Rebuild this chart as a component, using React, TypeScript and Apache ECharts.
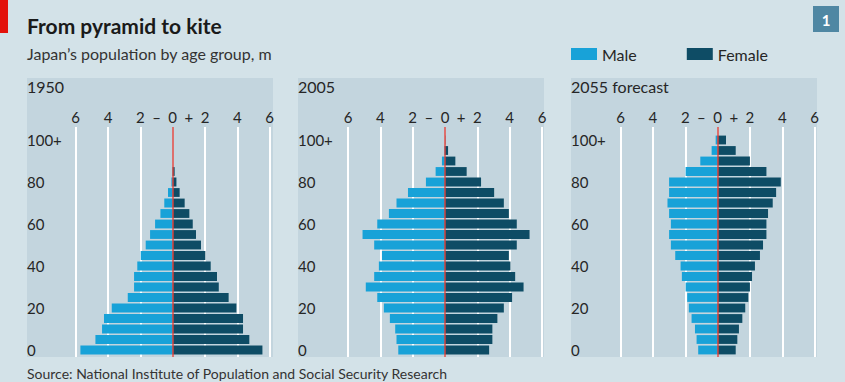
import React, { useEffect, useRef } from 'react';
import * as echarts from 'echarts';

// ---- Data (millions) ----
const ageGroups = ['0-4', '5-9', '10-14', '15-19', '20-24', '25-29', '30-34', '35-39', '40-44', '45-49', '50-54', '55-59', '60-64', '65-69', '70-74', '75-79', '80-84', '85-89', '90-94', '95-99', '100+'];
const panelTitles = ['1950', '2005', '2055 forecast'];
const male1950 = [5.71, 4.78, 4.37, 4.25, 3.77, 2.78, 2.39, 2.39, 2.19, 1.98, 1.67, 1.4, 1.09, 0.76, 0.52, 0.29, 0.08, 0.02, 0, 0, 0];
const female1950 = [5.55, 4.74, 4.35, 4.35, 3.94, 3.46, 2.85, 2.74, 2.35, 2.02, 1.75, 1.44, 1.24, 1.03, 0.74, 0.43, 0.23, 0.12, 0, 0, 0];
const male2005 = [2.89, 3.0, 3.08, 3.41, 3.78, 4.19, 4.9, 4.38, 4.09, 3.9, 4.38, 5.1, 4.19, 3.47, 3.0, 2.29, 1.18, 0.58, 0.19, 0.04, 0];
const female2005 = [2.73, 2.93, 2.93, 3.24, 3.64, 4.15, 4.86, 4.34, 4.05, 3.95, 4.44, 5.23, 4.44, 3.95, 3.64, 3.04, 2.23, 1.34, 0.64, 0.19, 0.02];
const male2055 = [1.2, 1.3, 1.4, 1.61, 1.78, 1.88, 1.98, 2.21, 2.29, 2.62, 2.89, 3.0, 2.89, 3.0, 3.1, 3.0, 3.0, 1.98, 1.07, 0.37, 0.12];
const female2055 = [1.12, 1.22, 1.32, 1.53, 1.71, 1.9, 2.0, 2.13, 2.31, 2.62, 2.81, 3.02, 3.02, 3.12, 3.41, 3.62, 3.91, 3.02, 2.0, 1.12, 0.52];
const maleSeries = [male1950, male2005, male2055];
const femaleSeries = [female1950, female2005, female2055];
const axisMax = 6;

// ---- Styles / layout ----
const FONT = 'Lato';
const BG = '#d3e2e8';
const BOX = '#c3d5de';
const MALE = '#18a2d8';
const FEMALE = '#0e4c65';
const TEXT = '#262626';
const panelLayout = [
  { boxLeft: 27, center: 172.7 },
  { boxLeft: 298, center: 445 },
  { boxLeft: 571, center: 717.6 },
];
const HALF = 97;
const BOX_W = 246;
const BOX_TOP = 78;
const BOX_BOTTOM = 357;
const GRID_TOP = 127;
const BAR_TOP = 134.75;
const BAR_H = 220.5;

function buildOption() {
  const grid: any[] = [];
  const xAxis: any[] = [];
  const yAxis: any[] = [];
  const series: any[] = [];
  const graphic: any[] = [
    { type: 'rect', shape: { x: 0, y: 0, width: 8, height: 33 }, style: { fill: '#e3120b' } },
    { type: 'rect', shape: { x: 813, y: 6, width: 26, height: 26 }, style: { fill: '#4f87a3' } },
    { type: 'text', x: 826, y: 19.5, style: { text: '1', fill: '#fff', font: `bold 15px ${FONT}`, textAlign: 'center', textVerticalAlign: 'middle' } },
    { type: 'text', x: 27, y: 15, style: { text: 'From pyramid to kite', fill: '#1a1a1a', font: `bold 21px ${FONT}`, textVerticalAlign: 'top' } },
    { type: 'text', x: 27, y: 45, style: { text: 'Japan’s population by age group, m', fill: '#333', font: `16px ${FONT}`, textVerticalAlign: 'top' } },
    { type: 'text', x: 27, y: 366, style: { text: 'Source: National Institute of Population and Social Security Research', fill: '#333', font: `14px ${FONT}`, textVerticalAlign: 'top' } },
  ];

  panelLayout.forEach((p, i) => {
    const left = p.center - HALF;
    graphic.push({ type: 'rect', z: -1, shape: { x: p.boxLeft, y: BOX_TOP, width: BOX_W, height: BOX_BOTTOM - BOX_TOP }, style: { fill: BOX } });
    graphic.push({ type: 'text', x: p.boxLeft, y: 78, style: { text: panelTitles[i], fill: TEXT, font: `16px ${FONT}`, textVerticalAlign: 'top' } });

    grid.push({ left, width: HALF * 2, top: GRID_TOP, height: BOX_BOTTOM - GRID_TOP });
    grid.push({ left, width: HALF * 2, top: BAR_TOP, height: BAR_H });

    xAxis.push({
      gridIndex: 2 * i, type: 'value', min: -axisMax, max: axisMax, interval: 2, position: 'top',
      axisLine: { show: false }, axisTick: { show: false },
      axisLabel: { formatter: (v: number) => String(Math.abs(v)), color: TEXT, fontSize: 15, fontFamily: FONT, margin: 3 },
      splitLine: { show: true, lineStyle: { color: '#ffffff', width: 2 } },
    });
    xAxis.push({
      gridIndex: 2 * i, type: 'value', min: -axisMax, max: axisMax, interval: 1, position: 'top',
      axisLine: { show: false }, axisTick: { show: false }, splitLine: { show: false },
      axisLabel: { formatter: (v: number) => (v === -1 ? '–' : v === 1 ? '+' : ''), color: TEXT, fontSize: 15, fontFamily: FONT, margin: 3 },
    });
    xAxis.push({ gridIndex: 2 * i + 1, type: 'value', min: -axisMax, max: axisMax, show: false });

    yAxis.push({ gridIndex: 2 * i, type: 'value', min: 0, max: 1, show: false });
    yAxis.push({
      gridIndex: 2 * i + 1, type: 'category', data: ageGroups,
      axisLine: { show: false }, axisTick: { show: false }, splitLine: { show: false },
      axisLabel: {
        interval: 3, align: 'left', margin: left - p.boxLeft, color: TEXT, fontSize: 15, fontFamily: FONT,
        formatter: (v: string) => (v === '100+' ? v : v.split('-')[0]),
      },
    });

    series.push({
      type: 'line', xAxisIndex: 3 * i, yAxisIndex: 2 * i, data: [[0, 0.5]], showSymbol: false, silent: true, z: 5,
      lineStyle: { width: 0 },
      markLine: { silent: true, symbol: 'none', label: { show: false }, data: [{ xAxis: 0 }], lineStyle: { color: '#d2403c', width: 1.5, type: 'solid' } },
    });
    series.push({
      type: 'bar', name: 'Male', xAxisIndex: 3 * i + 2, yAxisIndex: 2 * i + 1,
      data: maleSeries[i].map((v) => -v), barGap: '-100%', barCategoryGap: '16%', itemStyle: { color: MALE },
    });
    series.push({
      type: 'bar', name: 'Female', xAxisIndex: 3 * i + 2, yAxisIndex: 2 * i + 1,
      data: femaleSeries[i], barGap: '-100%', barCategoryGap: '16%', itemStyle: { color: FEMALE },
    });
  });

  return {
    animation: false,
    backgroundColor: BG,
    textStyle: { fontFamily: FONT },
    legend: {
      data: ['Male', 'Female'], left: 571, top: 46, padding: 0, itemWidth: 26, itemHeight: 12, itemGap: 50, icon: 'rect',
      selectedMode: false, textStyle: { fontSize: 16, color: TEXT, fontFamily: FONT },
    },
    grid, xAxis, yAxis, series, graphic,
  };
}

export default function App() {
  const ref = useRef<HTMLDivElement>(null);
  useEffect(() => {
    document.body.style.margin = '0';
    if (!ref.current) return;
    const chart = echarts.init(ref.current, undefined, { renderer: 'svg' });
    chart.setOption(buildOption() as any);
    return () => chart.dispose();
  }, []);
  return <div ref={ref} style={{ position: 'absolute', left: 0, top: 0, width: 845, height: 382 }} />;
}
